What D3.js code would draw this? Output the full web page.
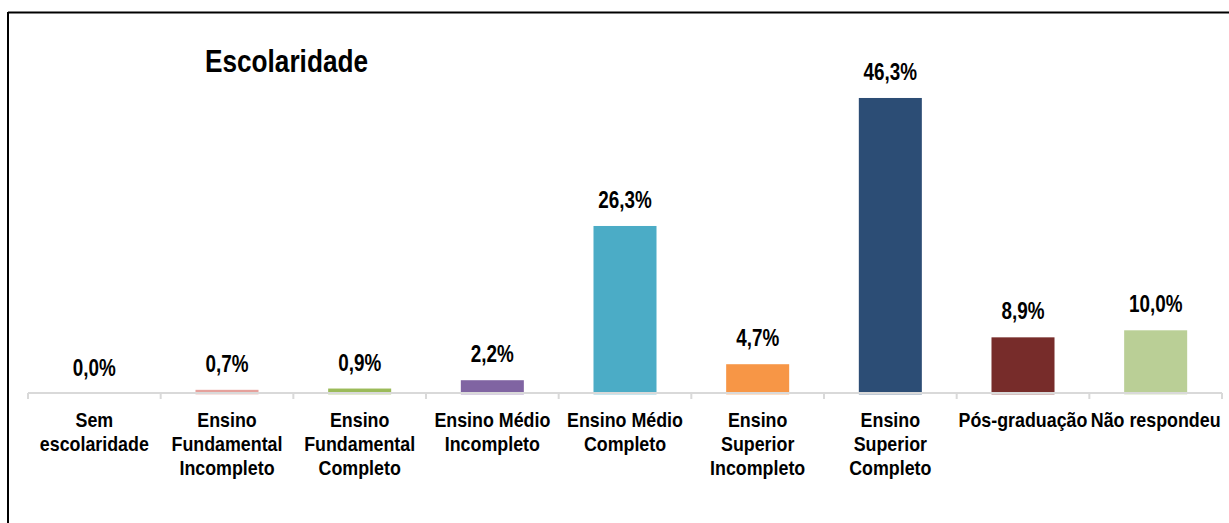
<!DOCTYPE html>
<html lang="pt">

<head>
    <meta charset="utf-8">
    <script src="https://cdn.jsdelivr.net/npm/d3@7"></script>
    <style>
        body { margin: 0; background: #ffffff; }
        text { font-family: "Liberation Sans", Arial, sans-serif; font-weight: bold; }
    </style>
</head>

<body>
    <div id="my_dataviz"></div>
</body>

<script>

    // dados do gráfico
    const categorias = [
        "Sem escolaridade",
        "Ensino Fundamental Incompleto",
        "Ensino Fundamental Completo",
        "Ensino Médio Incompleto",
        "Ensino Médio Completo",
        "Ensino Superior Incompleto",
        "Ensino Superior Completo",
        "Pós-graduação",
        "Não respondeu"
    ];
    // quebras de linha dos rótulos, como no original
    const linhasRotulos = [
        ["Sem", "escolaridade"],
        ["Ensino", "Fundamental", "Incompleto"],
        ["Ensino", "Fundamental", "Completo"],
        ["Ensino Médio", "Incompleto"],
        ["Ensino Médio", "Completo"],
        ["Ensino", "Superior", "Incompleto"],
        ["Ensino", "Superior", "Completo"],
        ["Pós-graduação"],
        ["Não respondeu"]
    ];
    const percentuais = [0.0, 0.7, 0.9, 2.2, 26.3, 4.7, 46.3, 8.9, 10.0];
    const cores = ["#C0504D", "#E6A19C", "#9BBB59", "#8064A2", "#4BACC6", "#F79646", "#2C4D75", "#772C2A", "#BACF96"];

    const svgWidth = 1229;
    const svgHeight = 523;
    const baseY = 394.3;

    const svg = d3.select("#my_dataviz")
        .append("svg")
        .attr("width", svgWidth)
        .attr("height", svgHeight);

    // moldura (só topo e lado esquerdo aparecem)
    svg.append("line")
        .attr("x1", 8).attr("x2", svgWidth)
        .attr("y1", 12.5).attr("y2", 12.5)
        .attr("stroke", "#000").attr("stroke-width", 2);
    svg.append("line")
        .attr("x1", 8).attr("x2", 8)
        .attr("y1", 12).attr("y2", svgHeight)
        .attr("stroke", "#000").attr("stroke-width", 2);

    const xScale = d3.scaleBand()
        .domain(categorias)
        .range([28, 1222])
        .paddingInner(0.525)
        .paddingOuter(0.2625);

    const yScale = d3.scaleLinear()
        .domain([0, 50])
        .range([baseY, baseY - 320]);

    // barras
    svg.selectAll("rect.barra")
        .data(percentuais)
        .enter()
        .append("rect")
        .attr("class", "barra")
        .attr("x", (d, i) => xScale(categorias[i]))
        .attr("y", d => yScale(d))
        .attr("width", xScale.bandwidth())
        .attr("height", d => baseY - yScale(d))
        .attr("fill", (d, i) => cores[i]);

    // eixo x
    const eixo = svg.append("g")
        .attr("transform", "translate(0, 393)");
    eixo.append("line")
        .attr("x1", 28).attr("x2", 1222)
        .attr("stroke", "#D9D9D9").attr("stroke-width", 2.2);
    const step = xScale.step();
    eixo.selectAll("line.tick")
        .data(d3.range(categorias.length + 1))
        .enter()
        .append("line")
        .attr("class", "tick")
        .attr("x1", i => 28 + i * step).attr("x2", i => 28 + i * step)
        .attr("y1", 0).attr("y2", 6)
        .attr("stroke", "#D9D9D9").attr("stroke-width", 2);

    // sem fonte "Narrow" instalada: comprime a Liberation Sans na horizontal

    // rótulos das categorias
    const rotulos = svg.selectAll("text.categoria")
        .data(linhasRotulos)
        .enter()
        .append("text")
        .attr("class", "categoria")
        .attr("text-anchor", "middle")
        .attr("transform", (d, i) => `translate(${xScale(categorias[i]) + xScale.bandwidth() / 2},0) scale(0.85,1)`)
        .style("font-size", "21px")
        .attr("fill", "#000");
    rotulos.each(function (linhas) {
        d3.select(this).selectAll("tspan")
            .data(linhas)
            .enter()
            .append("tspan")
            .attr("x", 0)
            .attr("y", (l, j) => 427 + j * 24)
            .text(l => l);
    });

    // rótulos de valor
    svg.selectAll("text.valor")
        .data(percentuais)
        .enter()
        .append("text")
        .attr("class", "valor")
        .attr("transform", (d, i) => `translate(${xScale(categorias[i]) + xScale.bandwidth() / 2},${yScale(d) - 18}) scale(0.82,1)`)
        .attr("text-anchor", "middle")
        .style("font-size", "23px")
        .attr("fill", "#000")
        .text(d => d3.format(".1f")(d).replace(".", ",") + "%");

    // título
    svg.append("text")
        .attr("transform", "translate(205,72) scale(0.845,1)")
        .style("font-size", "31px")
        .attr("fill", "#000")
        .text("Escolaridade");

</script>

</html>
